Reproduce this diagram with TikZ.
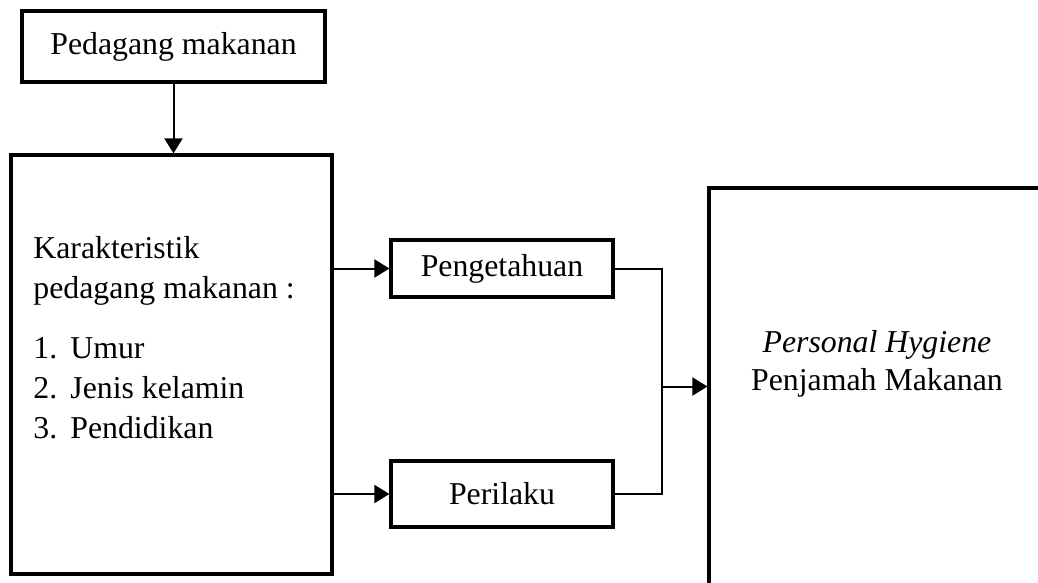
\documentclass[tikz,border=0pt]{standalone}
\usepackage{fontspec}
\setmainfont{Liberation Serif}
\usetikzlibrary{arrows.meta}
\begin{document}
\begin{tikzpicture}[x=0.5pt,y=-0.5pt,
  box/.style={draw,line width=1.6pt,inner sep=0pt},
  conn/.style={line width=1pt},
  arr/.style={conn,-{Triangle[length=7.5pt,width=9pt]}},
  txt/.style={font=\fontsize{15.9}{19}\selectfont,inner sep=0pt},
  item/.style={txt,anchor=base west}]
\clip (0,0) rectangle (1038,583);
\node[box,txt,minimum width=151.5pt,minimum height=35.5pt] (ped) at (173.5,46.5) {Pedagang makanan};
\node[box,minimum width=160.5pt,minimum height=209.5pt] (kar) at (171.5,364.5) {};
\node[item] (k1) at (33,258) {Karakteristik};
\node[item] (k2) at (33,298) {pedagang makanan :};
\node[item] (k3) at (33,358) {\makebox[18.5pt][l]{1.}Umur};
\node[item] (k4) at (33,398) {\makebox[18.5pt][l]{2.}Jenis kelamin};
\node[item] (k5) at (33,438) {\makebox[18.5pt][l]{3.}Pendidikan};
\node[box,txt,minimum width=111pt,minimum height=28.5pt] (pe) at (502,268.5) {Pengetahuan};
\node[box,txt,minimum width=111pt,minimum height=33pt] (pr) at (502,494) {Perilaku};
\node[box,minimum width=168pt,minimum height=198.5pt] (hyg) at (877,386.5) {};
\node[txt,align=center] (ht) at (877,364) {\textit{Personal Hygiene}\\Penjamah Makanan};
\coordinate (jn) at (662,386.5);
\draw[arr] (ped.south) -- (ped.south |- kar.north);
\draw[arr] (kar.east |- pe.west) -- (pe.west);
\draw[arr] (kar.east |- pr.west) -- (pr.west);
\draw[conn] (pe.east) -| (jn) |- (pr.east);
\draw[arr] (jn) -- (hyg.west);
\end{tikzpicture}
\end{document}
